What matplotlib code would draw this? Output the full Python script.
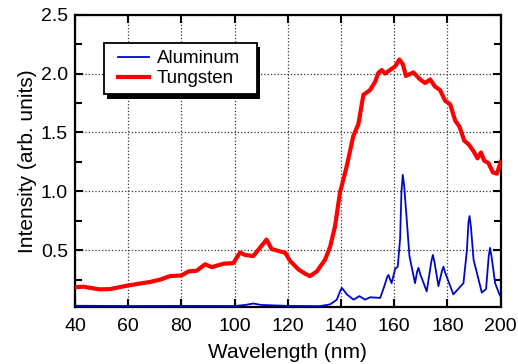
import matplotlib
matplotlib.use('Agg')
import matplotlib.pyplot as plt
from matplotlib.patches import Rectangle
from matplotlib.ticker import MultipleLocator

# --- data ---
tungsten_nm = [40, 43.1, 49.4, 53.2, 60, 64.4, 68.2, 72, 75.7, 80, 82.7, 85.7, 88.9, 91.4,
               95.8, 99.5, 102, 103.9, 107, 109.5, 112, 113.9, 117, 119, 120.8, 124, 126.5,
               128.3, 130.9, 134, 135.9, 137.7, 139.6, 142.1, 144.6, 146.5, 148.4, 150.9,
               152.8, 154, 155.3, 156.5, 158.4, 160.3, 161.9, 163.2, 164.4, 167.2, 169.7,
               171.6, 173.5, 175.3, 177.2, 179.1, 181, 182.9, 184.5, 186.3, 187.9, 189.8,
               191.3, 192.6, 193.8, 195.4, 197.1, 198.6, 200]
tungsten_int = [0.186, 0.19, 0.167, 0.17, 0.20, 0.217, 0.23, 0.25, 0.28, 0.285, 0.32, 0.325,
                0.38, 0.356, 0.385, 0.39, 0.48, 0.46, 0.45, 0.52, 0.59, 0.51, 0.49, 0.478,
                0.41, 0.336, 0.30, 0.28, 0.32, 0.42, 0.53, 0.70, 0.99, 1.21, 1.47, 1.57,
                1.82, 1.86, 1.93, 2.005, 2.03, 2.0, 2.03, 2.06, 2.12, 2.08, 1.98, 2.01, 1.95,
                1.92, 1.95, 1.89, 1.86, 1.77, 1.74, 1.60, 1.55, 1.43, 1.40, 1.34, 1.28, 1.33,
                1.26, 1.24, 1.16, 1.15, 1.25]

aluminum_nm = [40, 60, 80, 100, 104, 107, 110, 120, 132.1, 135.9, 138.4, 139.6, 140.3, 141.0,
               142.2, 144.7, 146.9, 149, 150.9, 154.7, 156.2, 157.3, 157.8, 158.3, 159,
               160.3, 161.3, 162.2, 162.7, 163.2, 163.7, 164.4, 165.7, 167.8, 168.6, 169.1,
               169.7, 172.2, 173.9, 174.5, 175.1, 176.6, 178.0, 178.5, 179.1, 182.2, 186,
               187.3, 187.9, 188.3, 188.8, 189.8, 192.9, 194.5, 195.5, 196, 196.6, 197.9,
               199.7]
aluminum_int = [0.028, 0.026, 0.027, 0.026, 0.035, 0.047, 0.035, 0.027, 0.025, 0.04, 0.08,
                0.15, 0.18, 0.16, 0.124, 0.08, 0.11, 0.08, 0.10, 0.095, 0.19, 0.27, 0.29,
                0.26, 0.22, 0.34, 0.36, 0.60, 1.00, 1.14, 1.05, 0.845, 0.45, 0.22, 0.32,
                0.35, 0.30, 0.15, 0.40, 0.46, 0.40, 0.195, 0.33, 0.36, 0.31, 0.125, 0.22,
                0.50, 0.74, 0.79, 0.70, 0.42, 0.14, 0.17, 0.45, 0.52, 0.44, 0.22, 0.115]

plt.rcParams['font.family'] = ['Liberation Sans', 'DejaVu Sans']

fig = plt.figure(figsize=(5.18, 3.64), dpi=100)
ax = fig.add_axes([0.1448, 0.1574, 0.8218, 0.8022])

ax.plot(aluminum_nm, aluminum_int, color='#0008c8', lw=1.3, label='Aluminum', zorder=3)
ax.plot(tungsten_nm, tungsten_int, color='#ff0000', lw=3.0, label='Tungsten', zorder=3)

ax.set_xlim(40, 200)
ax.set_ylim(0.02, 2.5)
ax.xaxis.set_major_locator(MultipleLocator(20))
ax.yaxis.set_major_locator(MultipleLocator(0.5))
ax.yaxis.set_minor_locator(MultipleLocator(0.25))

ax.grid(True, which='major', linestyle=':', color='#333333', lw=0.9)
ax.tick_params(which='both', direction='in', top=True, right=True, labelsize=14,
               width=1.5, color='black')
ax.tick_params(which='major', length=6)
ax.tick_params(which='minor', length=5)
ax.tick_params(axis='x', pad=8)
ax.tick_params(axis='y', pad=5)
for s in ax.spines.values():
    s.set_linewidth(1.6)

ax.set_xlabel('Wavelength (nm)', fontsize=15, labelpad=6)
ax.set_ylabel('Intensity (arb. units)', fontsize=15, labelpad=3)

# legend frame with a solid black drop shadow
ax.add_patch(Rectangle((0.075, 0.713), 0.3595, 0.175, transform=ax.transAxes,
                       facecolor='black', edgecolor='none', zorder=4.8))
ax.add_patch(Rectangle((0.068, 0.727), 0.3595, 0.175, transform=ax.transAxes,
                       facecolor='white', edgecolor='black', lw=1.3, zorder=4.9))
leg = ax.legend(loc='center left', bbox_to_anchor=(0.100, 0.8147), borderaxespad=0,
                borderpad=0, frameon=False, fontsize=13.5, handlelength=1.65,
                handletextpad=0.45, labelspacing=0.15)
leg.set_zorder(5)

fig.savefig('out.png', dpi=100)
